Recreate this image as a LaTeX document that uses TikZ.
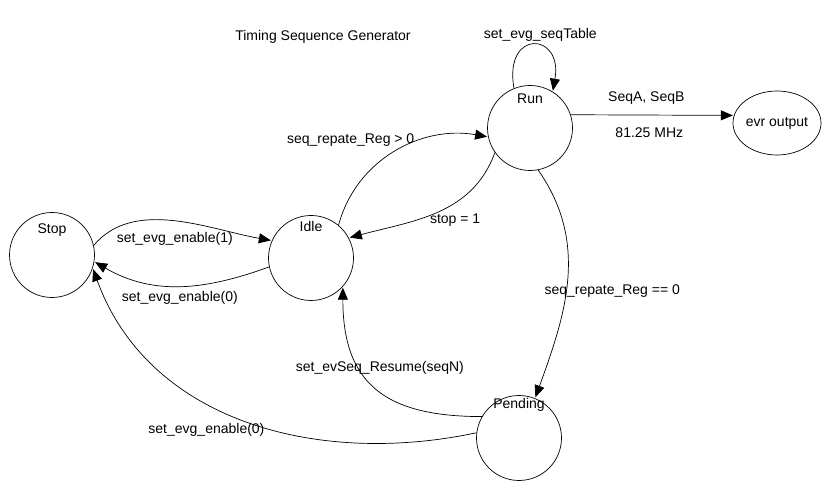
\documentclass[tikz,border=0pt]{standalone}
\usepackage{fontspec}
\setmainfont{Liberation Sans}
\usetikzlibrary{arrows.meta,automata,positioning,shapes.geometric}

\begin{document}
\begin{tikzpicture}[->,>={Triangle[length=12pt,width=10pt]},shorten >=1pt,auto,node distance=100pt,x=1pt,y=1pt,line width=0.7pt,font=\fontsize{14}{16}\selectfont,every state/.style={minimum size=85pt,inner sep=0pt}]
  \useasboundingbox (0,0) rectangle (828,490);
  \node [state,label={[yshift=25pt]center:Stop}] (stop) at (52,235) {};
  \node [state,right of=stop,xshift=159pt,yshift=-3pt,label={[yshift=32pt]center:Idle}] (idle) {};
  \node [state,right of=idle,xshift=119pt,yshift=130pt,label={[yshift=29pt]center:Run}] (run) {};
  \node [state,ellipse,right of=run,xshift=147pt,yshift=5pt,minimum width=81pt,minimum height=64pt] (evr) {evr output};
  \node [state,below of=run,xshift=-11pt,yshift=-210pt,label={[yshift=33pt]center:Pending}] (pending) {};
  \node [above of=idle,xshift=12pt,yshift=121pt] (title) {Timing Sequence Generator};

  \path (stop.13) edge [out=50,in=170,looseness=0.9] node [below=8pt] {set\_evg\_enable(1)} (idle.156)
        (idle.192) edge [out=200,in=-30] node [below=2pt] {set\_evg\_enable(0)} (stop.-9);
  \path (idle.50) edge [out=75,in=170] node [pos=0.45,anchor=south east,xshift=31pt,yshift=7pt] {seq\_repate\_Reg > 0} (run.192)
        (run.215) edge [out=250,in=15] node [pos=0.5,anchor=north west,xshift=-11pt,yshift=2pt] {stop = 1} (idle.28);
  \path (run.112) edge [out=100,in=80,looseness=4] node [above=0pt,xshift=7pt] {set\_evg\_seqTable} (run.58);
  \path (run.18) edge node [above=7pt,xshift=-6pt] {SeqA, SeqB} node [below=9pt,xshift=-3pt] {81.25 MHz} (evr.170);
  \path (run.-79) edge [out=-55,in=70] node [pos=0.52,anchor=west,xshift=-26pt,yshift=-6pt] {seq\_repate\_Reg == 0} (pending.68);
  \path (pending.150) edge [out=180,in=-90,looseness=1.3] node [pos=0.65,anchor=center,xshift=21pt,yshift=-2pt] {set\_evSeq\_Resume(seqN)} (idle.-42);
  \path (pending.173) edge [out=192,in=-70] node [pos=0.55,anchor=center,xshift=-19pt,yshift=-18pt] {set\_evg\_enable(0)} (stop.-18);
\end{tikzpicture}
\end{document}
